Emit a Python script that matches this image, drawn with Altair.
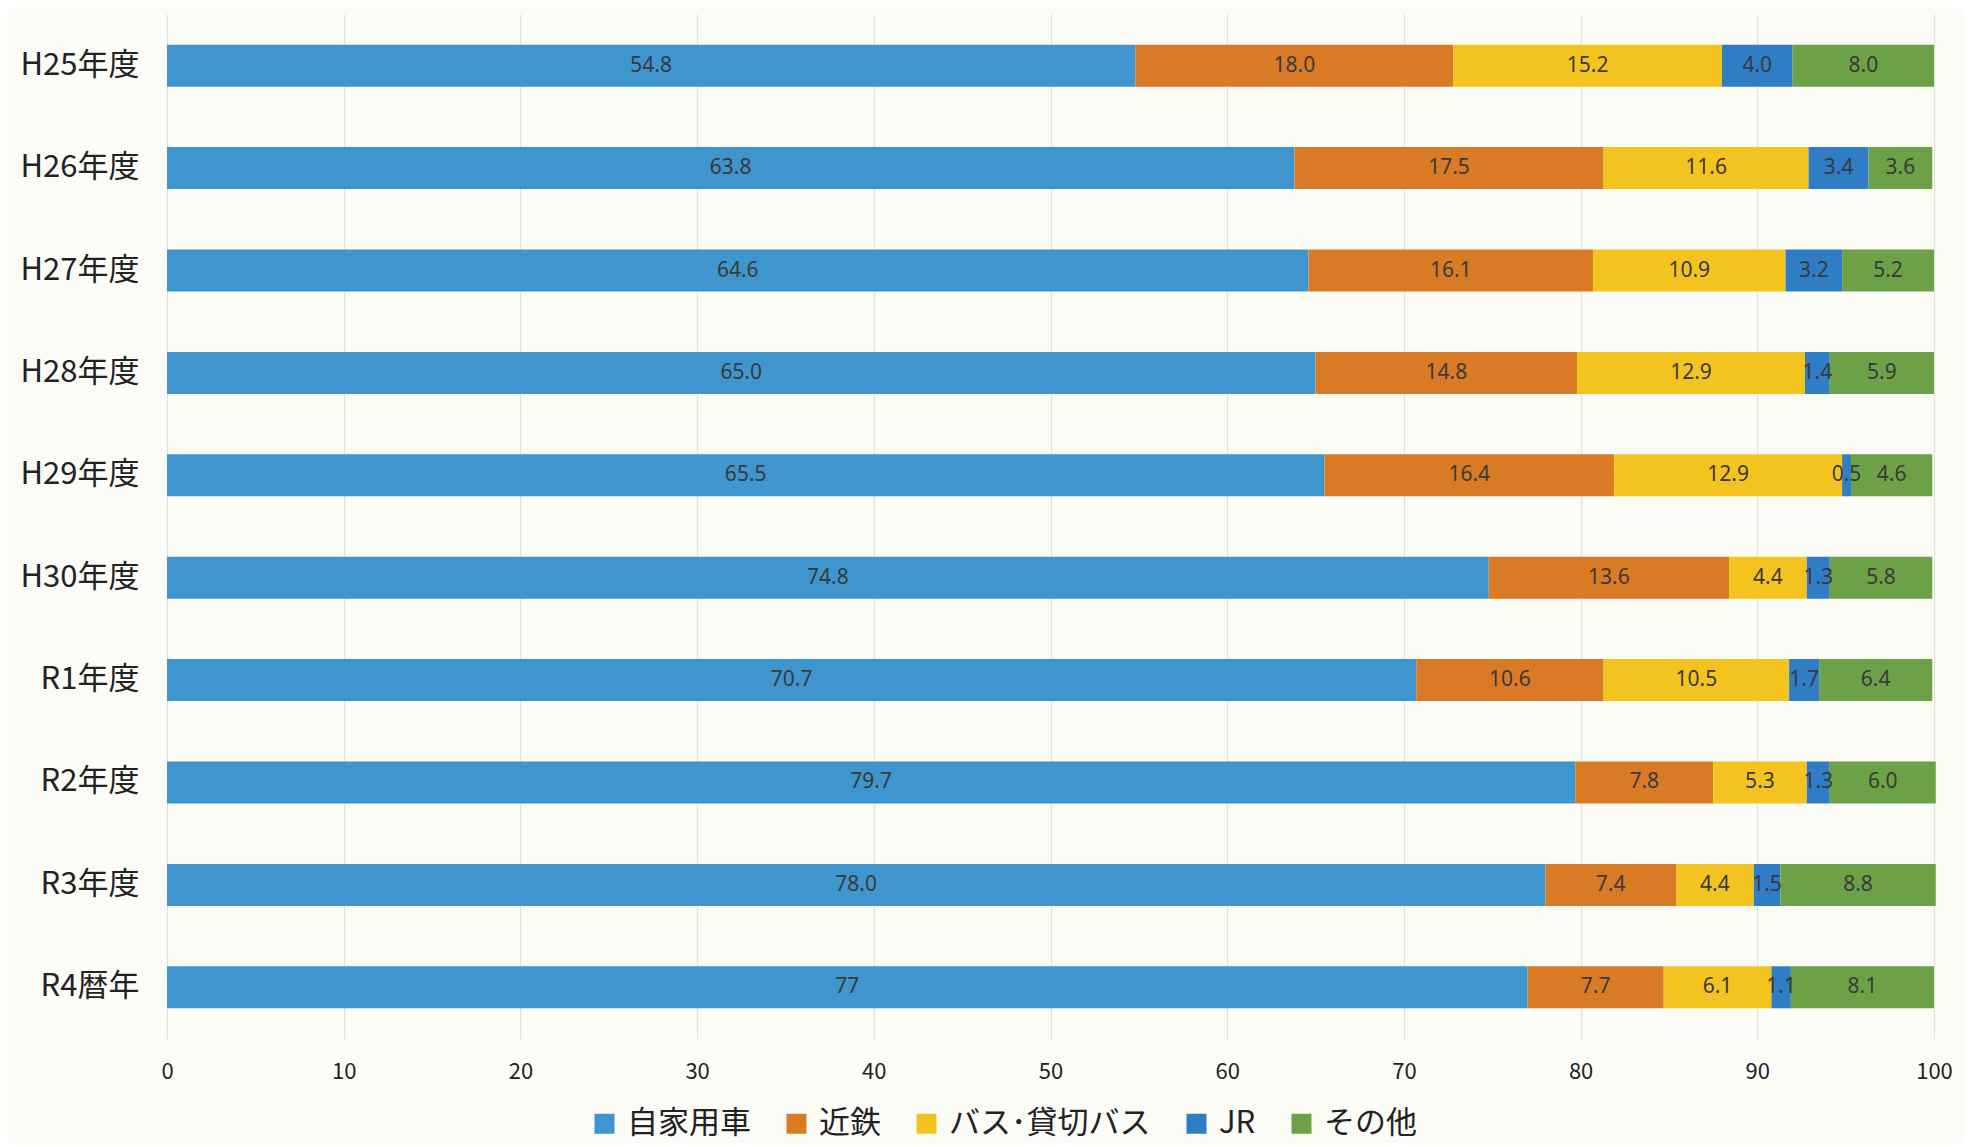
import altair as alt
import pandas as pd

years = ["H25年度", "H26年度", "H27年度", "H28年度", "H29年度",
         "H30年度", "R1年度", "R2年度", "R3年度", "R4暦年"]
modes = ["自家用車", "近鉄", "バス･貸切バス", "JR", "その他"]
colors = ["#3f95ce", "#d97b25", "#f3c41f", "#2f7dc4", "#6ca147"]

car = [54.8, 63.8, 64.6, 65.0, 65.5, 74.8, 70.7, 79.7, 78.0, 77]
kintetsu = [18.0, 17.5, 16.1, 14.8, 16.4, 13.6, 10.6, 7.8, 7.4, 7.7]
bus = [15.2, 11.6, 10.9, 12.9, 12.9, 4.4, 10.5, 5.3, 4.4, 6.1]
jr = [4.0, 3.4, 3.2, 1.4, 0.5, 1.3, 1.7, 1.3, 1.5, 1.1]
other = [8.0, 3.6, 5.2, 5.9, 4.6, 5.8, 6.4, 6.0, 8.8, 8.1]
car_labels = ["54.8", "63.8", "64.6", "65.0", "65.5", "74.8", "70.7", "79.7", "78.0", "77"]

series = [car, kintetsu, bus, jr, other]
rows = []
for mi, (m, vals) in enumerate(zip(modes, series)):
    for yi, (y, v) in enumerate(zip(years, vals)):
        lab = car_labels[yi] if mi == 0 else f"{v:.1f}"
        rows.append({"year": y, "mode": m, "value": v, "order": mi, "label": lab})
df = pd.DataFrame(rows)

font = "Noto Sans CJK JP"

base = alt.Chart(df).transform_stack(
    stack="value", groupby=["year"], as_=["x0", "x1"],
    sort=[alt.SortField("order", order="ascending")]
)

bars = base.mark_bar(size=42).encode(
    y=alt.Y("year:N", sort=years, title=None,
            axis=alt.Axis(labelFontSize=31, labelFont=font, labelColor="#222222",
                          ticks=False, domain=False, labelPadding=28, grid=False)),
    x=alt.X("x0:Q", scale=alt.Scale(domain=[0, 100], nice=False), title=None,
            axis=alt.Axis(values=list(range(0, 101, 10)), labelFontSize=22, labelFont=font,
                          labelColor="#222222", ticks=False, domain=False, labelFlush=False,
                          grid=True, gridColor="#e2e2e0", gridWidth=1.2, labelPadding=22)),
    x2="x1:Q",
    color=alt.Color("mode:N", sort=modes, scale=alt.Scale(domain=modes, range=colors),
                    legend=alt.Legend(orient="none", legendX=422, legendY=1094,
                                      direction="horizontal", title=None,
                                      labelFontSize=31, labelFont=font, labelColor="#222222",
                                      symbolType="square", symbolSize=400, symbolStrokeWidth=0,
                                      labelOffset=7, columnPadding=30, labelLimit=400)),
    order=alt.Order("order:Q"),
)

text = base.transform_calculate(mid="(datum.x0 + datum.x1) / 2").mark_text(
    fontSize=21, font="Noto Sans", color="#3a3a3a"
).encode(
    y=alt.Y("year:N", sort=years),
    x=alt.X("mid:Q"),
    text="label:N",
)

chart = (bars + text).properties(
    width=1767, height=1025,
    background="#fcfcf7",
    autosize=alt.AutoSizeParams(type="none"),
    padding={"left": 159, "top": 6, "right": 30, "bottom": 104},
).configure_scale(bandPaddingInner=0.59, bandPaddingOuter=0.3).configure_view(stroke=None)

chart.save("out.html", embed_options={"renderer": "svg", "actions": False})
